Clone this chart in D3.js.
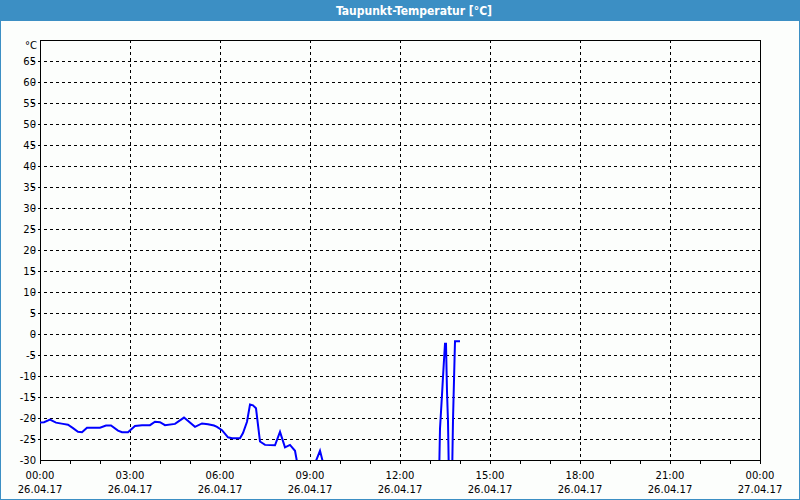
<!DOCTYPE html>
<html><head><meta charset="utf-8">
<script src="https://cdn.jsdelivr.net/npm/d3@7"></script>
<style>
html,body{margin:0;padding:0;background:#fff;}
svg{display:block;}
</style></head>
<body>
<svg id="chart" width="800" height="500"></svg>
<script>
// ---- data ----
const chartTitle = "Taupunkt-Temperatur [°C]";
const unitLabel = "°C";
// minutes since 26.04.17 00:00
const timeMinutes = [0,8,20,32,46,56,66,76,84,94,120,132,142,156,164,176,190,204,220,230,240,250,270,288,310,324,336,348,354,364,376,384,400,406,414,420,426,432,440,450,470,480,490,500,510,518,530,544,552,560,566,580,680,798,800,802,804,806,808,810,812,814,816,818,824,826,828,830,840];
const dewPoint    = [-21.1,-21.0,-20.4,-21.1,-21.4,-21.6,-22.4,-23.3,-23.4,-22.3,-22.3,-21.8,-21.8,-23.0,-23.4,-23.4,-21.9,-21.7,-21.7,-20.9,-21.0,-21.7,-21.4,-19.9,-22.1,-21.3,-21.5,-21.8,-22.1,-22.9,-24.6,-24.8,-24.8,-23.6,-20.9,-16.8,-17.0,-17.7,-25.6,-26.4,-26.5,-23.3,-27.0,-26.4,-27.8,-33,-36,-33,-30.2,-27.8,-30.6,-35,-36,-35,-22.5,-18.5,-14.5,-10.2,-6.2,-2.3,-2.3,-13.7,-20.9,-35,-35,-20.5,-11,-1.7,-1.7];
const yTickValues = [-30,-25,-20,-15,-10,-5,0,5,10,15,20,25,30,35,40,45,50,55,60,65];
const xTickMinutes = [0,180,360,540,720,900,1080,1260,1440];
const xTickTimes = ["00:00","03:00","06:00","09:00","12:00","15:00","18:00","21:00","00:00"];
const xTickDates = ["26.04.17","26.04.17","26.04.17","26.04.17","26.04.17","26.04.17","26.04.17","26.04.17","27.04.17"];
const hourTicks = d3.range(0, 1441, 60);

// ---- layout ----
const W = 800, H = 500;
const plot = {left: 40, right: 760, top: 40, bottom: 460};
const svg = d3.select("#chart");
const font = "'DejaVu Sans', Verdana, sans-serif";

svg.append("rect").attr("x",0).attr("y",0).attr("width",W).attr("height",H).attr("fill","#fcfefc");
// window border
svg.append("rect").attr("x",0.5).attr("y",0.5).attr("width",W-1).attr("height",H-1)
  .attr("fill","none").attr("stroke","#3c8fc4").attr("stroke-width",1);
// title bar
svg.append("rect").attr("x",0).attr("y",0).attr("width",W).attr("height",21).attr("fill","#3c8fc4");
svg.append("text").attr("x",414).attr("y",14.5).attr("text-anchor","middle")
  .attr("fill","#ffffff").attr("font-family","'DejaVu Sans Condensed', 'DejaVu Sans', sans-serif")
  .attr("font-weight","bold").attr("font-size","12px").text(chartTitle);

const x = d3.scaleLinear().domain([0,1440]).range([plot.left, plot.right]);
const y = d3.scaleLinear().domain([-30,70]).range([plot.bottom, plot.top]);

// horizontal grid (dashed), extending left as ticks
svg.append("g").selectAll("line").data(yTickValues.filter(v=>v>-30)).join("line")
  .attr("x1",32).attr("x2",plot.right)
  .attr("y1",d=>Math.round(y(d))+0.5).attr("y2",d=>Math.round(y(d))+0.5)
  .attr("stroke","#000").attr("stroke-width",1).attr("stroke-dasharray","3,3");
// vertical grid (dashed)
svg.append("g").selectAll("line").data(xTickMinutes.filter(m=>m>0 && m<1440)).join("line")
  .attr("x1",d=>Math.round(x(d))+0.5).attr("x2",d=>Math.round(x(d))+0.5)
  .attr("y1",plot.top).attr("y2",plot.bottom)
  .attr("stroke","#000").attr("stroke-width",1).attr("stroke-dasharray","3,3");

// hour ticks below x axis
svg.append("g").selectAll("line").data(hourTicks).join("line")
  .attr("x1",d=>Math.round(x(d))+0.5).attr("x2",d=>Math.round(x(d))+0.5)
  .attr("y1",plot.bottom).attr("y2",plot.bottom+4)
  .attr("stroke","#000").attr("stroke-width",1);

// frame
svg.append("rect").attr("x",plot.left+0.5).attr("y",plot.top+0.5)
  .attr("width",plot.right-plot.left).attr("height",plot.bottom-plot.top)
  .attr("fill","none").attr("stroke","#000").attr("stroke-width",1);

// y labels
svg.append("g").selectAll("text").data(yTickValues).join("text")
  .attr("x",36).attr("y",d=>y(d)+4).attr("text-anchor","end")
  .attr("font-family",font).attr("font-size","10px").attr("fill","#000")
  .text(d=>d);
svg.append("text").attr("x",37).attr("y",49).attr("text-anchor","end")
  .attr("font-family",font).attr("font-size","10px").attr("fill","#000").text(unitLabel);

// x labels
const xl = svg.append("g");
xl.selectAll("text.t").data(xTickMinutes).join("text").attr("class","t")
  .attr("x",d=>x(d)).attr("y",479).attr("text-anchor","middle")
  .attr("font-family",font).attr("font-size","10px").attr("fill","#000")
  .text((d,i)=>xTickTimes[i]);
xl.selectAll("text.d").data(xTickMinutes).join("text").attr("class","d")
  .attr("x",d=>x(d)).attr("y",493).attr("text-anchor","middle")
  .attr("font-family",font).attr("font-size","10px").attr("fill","#000")
  .text((d,i)=>xTickDates[i]);

// clip
svg.append("clipPath").attr("id","clip").append("rect")
  .attr("x",plot.left).attr("y",plot.top).attr("width",plot.right-plot.left).attr("height",plot.bottom-plot.top);

const pts = timeMinutes.map((t,i)=>[t, dewPoint[i]]);
const line = d3.line().x(d=>x(d[0])).y(d=>y(d[1]));
svg.append("path").attr("clip-path","url(#clip)").datum(pts)
  .attr("d",line).attr("fill","none").attr("stroke","#0000ff").attr("stroke-width",2)
  .attr("stroke-linejoin","miter");
</script>
</body></html>
